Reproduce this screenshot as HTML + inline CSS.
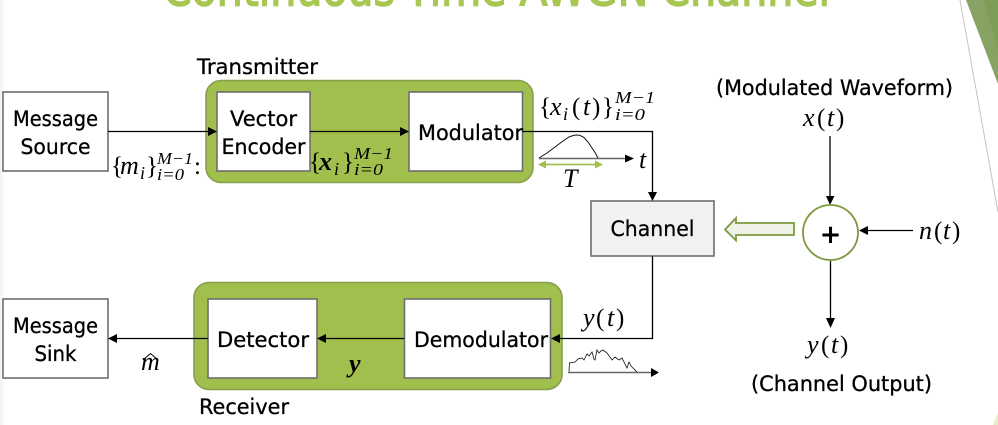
<!DOCTYPE html>
<html lang="en">
<head>
<meta charset="utf-8">
<title>Continuous-Time AWGN Channel</title>
<style>
html,body{margin:0;padding:0;background:#fff;width:998px;height:425px;overflow:hidden}
svg{display:block}
text{font-family:"DejaVu Sans","Liberation Sans",sans-serif;fill:#000}
.lbl{font-size:21.5px;stroke:#000;stroke-width:.3}
.m{font-family:"Liberation Serif",serif;font-style:italic;font-size:26px}
.mr{font-family:"Liberation Serif",serif;font-size:25px}
.i{font-family:"Liberation Serif",serif;font-style:italic;font-size:18px}
.s{font-family:"Liberation Serif",serif;font-style:italic;font-size:17px}
.wire{stroke:#000;stroke-width:1.3;fill:none}
.box{fill:#fff;stroke:#6e6e6e;stroke-width:1.6}
.grp{fill:#a1bf4d;stroke:#869f4f;stroke-width:1.6}
</style>
</head>
<body>
<svg id="diagram" width="998" height="425" viewBox="0 0 998 425" xmlns="http://www.w3.org/2000/svg">
<defs>
<linearGradient id="edge" x1="0" x2="1" y1="0" y2="0"><stop offset="0" stop-color="#f2f2f2"/><stop offset="1" stop-color="#ffffff"/></linearGradient>
</defs>
<rect width="998" height="425" fill="#fff"/>
<rect width="5" height="425" fill="url(#edge)"/>

<!-- slide decoration -->
<polygon points="966,0 998,0 998,84" fill="#87a363"/>
<polygon points="984,0 998,0 998,50" fill="#7d9c55"/>
<line x1="960" y1="0" x2="998" y2="212" stroke="#c4c4c4" stroke-width="1"/>
<polygon points="998,413 998,425 993,425" fill="#e6edc4"/>

<!-- title -->
<text x="163" y="5.500" font-size="47" style="fill:#a8c652;stroke:#a8c652;stroke-width:1.5" textLength="667" lengthAdjust="spacingAndGlyphs">Continuous-Time AWGN Channel</text>

<!-- transmitter -->
<text class="lbl" x="197" y="74" textLength="121" lengthAdjust="spacingAndGlyphs">Transmitter</text>
<rect class="grp" x="206" y="80.500" width="327" height="102" rx="15"/>

<rect class="box" x="3" y="92" width="105" height="79"/>
<text class="lbl" x="55.500" y="126" text-anchor="middle" textLength="85" lengthAdjust="spacingAndGlyphs">Message</text>
<text class="lbl" x="55.500" y="154" text-anchor="middle" textLength="70" lengthAdjust="spacingAndGlyphs">Source</text>

<rect class="box" x="217" y="92" width="93" height="79"/>
<text class="lbl" x="263.500" y="126" text-anchor="middle" textLength="67" lengthAdjust="spacingAndGlyphs">Vector</text>
<text class="lbl" x="263.500" y="154" text-anchor="middle" textLength="84" lengthAdjust="spacingAndGlyphs">Encoder</text>

<rect class="box" x="409" y="92" width="113.500" height="79"/>
<text class="lbl" x="418" y="140" textLength="105" lengthAdjust="spacingAndGlyphs">Modulator</text>

<!-- channel -->
<rect x="591" y="201" width="123" height="55" fill="#f1f1f1" stroke="#6e6e6e" stroke-width="1.6"/>
<text class="lbl" x="652.500" y="236" text-anchor="middle" textLength="84" lengthAdjust="spacingAndGlyphs">Channel</text>

<!-- receiver -->
<rect class="grp" x="194" y="282.500" width="368" height="107" rx="15"/>
<rect class="box" x="3" y="299" width="105" height="79"/>
<text class="lbl" x="55.500" y="333" text-anchor="middle" textLength="85" lengthAdjust="spacingAndGlyphs">Message</text>
<text class="lbl" x="55.500" y="361" text-anchor="middle" textLength="42" lengthAdjust="spacingAndGlyphs">Sink</text>
<rect class="box" x="208" y="299" width="109" height="79"/>
<text class="lbl" x="217" y="347" textLength="92" lengthAdjust="spacingAndGlyphs">Detector</text>
<rect class="box" x="404.500" y="299" width="146" height="79"/>
<text class="lbl" x="414" y="347" textLength="134" lengthAdjust="spacingAndGlyphs">Demodulator</text>
<text class="lbl" x="199" y="414" textLength="90" lengthAdjust="spacingAndGlyphs">Receiver</text>

<!-- wires -->
<g>
<path class="wire" d="M108 131.500H210"/>
<polygon points="217,131.500 208,127 208,136"/>
<path class="wire" d="M310 131.500H402"/>
<polygon points="409,131.500 400,127 400,136"/>
<path class="wire" d="M522 131.500H652.500V195"/>
<polygon points="652.500,201 648,192 657,192"/>
<path class="wire" d="M652.500 256V338.500H557"/>
<polygon points="551,338.500 560,334 560,343"/>
<path class="wire" d="M404 338.500H323"/>
<polygon points="317,338.500 326,334 326,343"/>
<path class="wire" d="M208 338.500H114"/>
<polygon points="108,338.500 117,334 117,343"/>
<path class="wire" d="M830 136V199"/>
<polygon points="830,205 826,196 834.500,196"/>
<path class="wire" d="M913 230.500H864"/>
<polygon points="859,230.500 868,226 868,235"/>
<path class="wire" d="M830.500 261V320"/>
<polygon points="830.500,328 826,318 835,318"/>
</g>

<!-- adder and hollow arrow -->
<circle cx="830.500" cy="232.500" r="27.500" fill="#fff" stroke="#7d9a3e" stroke-width="1.8"/>
<text x="830.500" y="243" text-anchor="middle" font-size="26" font-weight="700">+</text>
<polygon points="725,229.500 736,218 736,223 794,223 794,235 736,235 736,240.500" fill="#eff2e6" stroke="#7d9a3e" stroke-width="1.8"/>

<!-- waveform sketches -->
<path d="M539 158.500H628" stroke="#666" stroke-width="1.4" fill="none"/>
<polygon points="634,158.500 625,154.500 625,162.500"/>
<polyline id="pulse-trace" fill="none" stroke="#111" stroke-width="1"/>
<path d="M543 164.500H598" stroke="#a1bf4d" stroke-width="1.8" fill="none"/>
<polygon points="538,164.500 546,160.500 546,168.500" fill="#a1bf4d"/>
<polygon points="603,164.500 595,160.500 595,168.500" fill="#a1bf4d"/>
<path d="M568 372.500H652" stroke="#666" stroke-width="1.4" fill="none"/>
<polygon points="659,372.500 651,368 651,377"/>
<polyline id="noise-trace" fill="none" stroke="#111" stroke-width="0.8"/>

<!-- math labels -->
<g>
<text class="mr" x="111" y="174">{</text>
<text class="m" x="120" y="174">m</text>
<text class="i" x="140" y="179">i</text>
<text class="mr" x="146" y="174">}</text>
<text class="s" x="157" y="164" textLength="36" lengthAdjust="spacingAndGlyphs">M−1</text>
<text class="s" x="157" y="180" textLength="27" lengthAdjust="spacingAndGlyphs">i=0</text>
<text class="mr" x="194" y="174">:</text>
</g>
<g>
<text class="mr" x="309" y="170">{</text>
<text class="m" x="319" y="170" font-weight="700">x</text>
<text class="i" x="334" y="175">i</text>
<text class="mr" x="342" y="170">}</text>
<text class="s" x="354" y="159" textLength="39" lengthAdjust="spacingAndGlyphs">M−1</text>
<text class="s" x="354" y="175" textLength="29" lengthAdjust="spacingAndGlyphs">i=0</text>
</g>
<g>
<text class="mr" x="539" y="115">{</text>
<text class="m" x="550" y="115">x</text>
<text class="i" x="563" y="120">i</text>
<text class="mr" x="572" y="115">(</text>
<text class="m" x="583" y="115">t</text>
<text class="mr" x="592" y="115">)</text>
<text class="mr" x="602" y="115">}</text>
<text class="s" x="615" y="103" textLength="40" lengthAdjust="spacingAndGlyphs">M−1</text>
<text class="s" x="615" y="120" textLength="30" lengthAdjust="spacingAndGlyphs">i=0</text>
</g>
<text class="m" x="639" y="168">t</text>
<text class="m" x="563" y="187">T</text>
<text y="326"><tspan class="m" x="583">y</tspan><tspan class="mr" x="596">(</tspan><tspan class="m" x="607">t</tspan><tspan class="mr" x="616">)</tspan></text>
<text class="m" x="141" y="370">m</text>
<path d="M143 360L150.500 353.500L158 360" fill="none" stroke="#000" stroke-width="1"/>
<text class="m" x="349" y="372" font-weight="700">y</text>

<text class="lbl" x="716" y="95" textLength="237" lengthAdjust="spacingAndGlyphs">(Modulated Waveform)</text>
<text y="126"><tspan class="m" x="803">x</tspan><tspan class="mr" x="817">(</tspan><tspan class="m" x="827">t</tspan><tspan class="mr" x="836">)</tspan></text>
<text y="239"><tspan class="m" x="919">n</tspan><tspan class="mr" x="934">(</tspan><tspan class="m" x="943">t</tspan><tspan class="mr" x="952">)</tspan></text>
<text y="353"><tspan class="m" x="807">y</tspan><tspan class="mr" x="821">(</tspan><tspan class="m" x="831">t</tspan><tspan class="mr" x="840">)</tspan></text>
<text class="lbl" x="751" y="391" textLength="181" lengthAdjust="spacingAndGlyphs">(Channel Output)</text>
</svg>
<script>
// Waveform sample values (time position and relative amplitude)
var pulseTimes = [0, 8, 16, 24, 30, 35, 38, 41, 45, 49, 53, 56, 59];
var pulseAmps = [0, 5, 11, 17, 21, 22.700, 23, 22.700, 20.500, 16, 10, 5.500, 0];
var noiseTimes = [0, 0.500, 6, 9, 13, 15, 18, 20, 23, 25, 26, 28, 30, 32, 34, 38, 41, 43, 46, 50, 53, 58, 60, 62, 64, 68];
var noiseAmps = [0.500, 9, 10, 13, 14, 12, 18, 16, 20, 13, 12, 22, 19, 21, 22, 19, 15, 12, 15, 12, 14, 4, 10, 6, 4, 0];

function traceX(originX, t) { return originX + t; }
function traceY(baseY, amp) { return baseY - amp; }
function drawTrace(id, times, amps, originX, baseY) {
  var pts = times.map(function (t, i) {
    return traceX(originX, t) + ',' + traceY(baseY, amps[i]);
  });
  document.getElementById(id).setAttribute('points', pts.join(' '));
}
drawTrace('pulse-trace', pulseTimes, pulseAmps, 539, 158);
drawTrace('noise-trace', noiseTimes, noiseAmps, 569, 372);
</script>
</body>
</html>
